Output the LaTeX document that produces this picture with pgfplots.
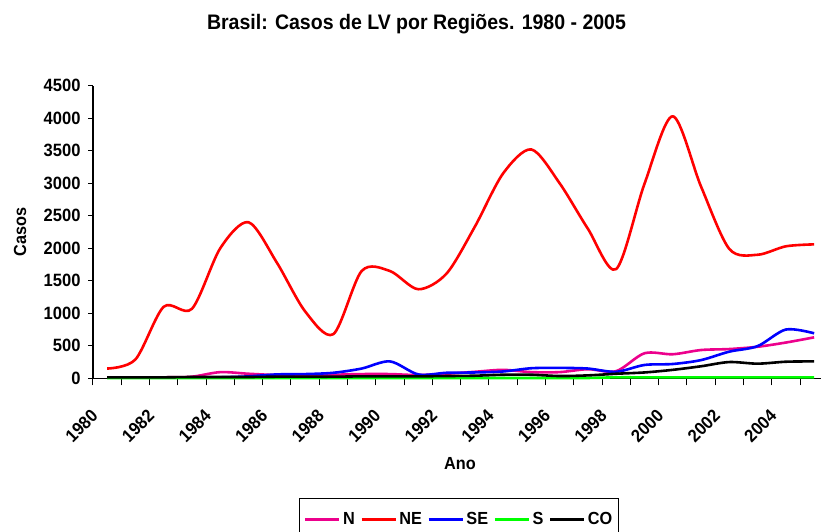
\documentclass[border=0pt]{standalone}
\usepackage{fontspec}
\setmainfont{Liberation Sans}[FakeStretch=0.93]
\usepackage{pgfplots}
\usepackage{pgfplotstable}
\pgfplotsset{compat=1.18}
\pgfplotstableread{
year N NE SE S CO
1980 10 150 10 5 15
1981 10 290 10 5 15
1982 15 1100 10 5 15
1983 25 1070 10 5 20
1984 95 2000 15 5 20
1985 70 2400 30 5 20
1986 50 1780 60 5 25
1987 50 1030 65 5 25
1988 55 680 85 5 25
1989 65 1650 150 5 30
1990 65 1650 260 5 30
1991 50 1370 60 5 30
1992 70 1610 85 5 35
1993 100 2330 90 5 40
1994 130 3150 105 5 55
1995 95 3520 155 5 55
1996 95 3000 160 5 35
1997 140 2300 150 5 45
1998 110 1680 100 15 70
1999 385 2990 205 15 90
2000 370 4030 220 15 130
2001 435 2950 280 15 185
2002 450 1990 410 15 250
2003 485 1900 495 15 225
2004 550 2030 750 15 255
2005 630 2060 692 15 260
}\data
\begin{document}
\begin{tikzpicture}
\begin{axis}[
  at={(0pt,0pt)}, anchor=south west,
  width=728pt, height=292.6pt, scale only axis,
  xmin=1979.5, xmax=2005.243, ymin=0, ymax=4500,
  axis x line*=bottom, axis y line*=left,
  axis line style={line width=1.3pt, black, -},
  clip=false,
  xtick={1980,1982,...,2004},
  major x tick style={draw=none},
  minor xtick={1979.5,1980.5,...,2004.5},
  minor x tick style={line width=1pt, black},
  ytick={0,500,...,4500},
  y tick style={line width=1pt, black},
  tick align=outside,
  major tick length=5pt, minor tick length=7pt,
  /pgf/number format/assume math mode=true,
  /pgf/number format/set thousands separator={},
  ticklabel style={font=\fontsize{17.8}{18}\selectfont\bfseries},
  yticklabel style={anchor=east, xshift=-4pt},
  xticklabel style={xshift=-17pt, yshift=-25pt, rotate=45, anchor=north east, inner sep=0pt},
  xlabel={Ano},
  xlabel style={at={(axis description cs:0.504,-0.293)}, anchor=center, font=\fontsize{17.5}{18}\selectfont\bfseries},
  ylabel={Casos},
  ylabel style={at={(axis description cs:-0.1003,0.5)}, anchor=center, font=\fontsize{17.5}{18}\selectfont\bfseries},
  title={Brasil: Casos de LV por Regiões. 1980 - 2005},
  title style={at={(axis description cs:0.4444,1.1904)}, anchor=base, yshift=-6pt, font=\fontsize{21}{21}\selectfont\bfseries},
  legend columns=5,
  legend style={at={(axis description cs:0.5027,-0.409)}, anchor=north, draw=black, line width=1.3pt,
    font=\fontsize{17.5}{18}\selectfont\bfseries, inner xsep=4pt, inner ysep=12pt,
    /tikz/every even column/.append style={column sep=3pt},
    nodes={inner sep=2pt}},
  legend image code/.code={\draw[#1, line width=3.5pt] (0pt,0pt) -- (34pt,0pt);},
  every axis plot/.append style={line width=2.6pt, smooth, tension=0.5, line join=round},
]
\addplot[magenta] table[x=year,y=N] {\data};
\addlegendentry{N}
\addplot[red] table[x=year,y=NE] {\data};
\addlegendentry{NE}
\addplot[blue] table[x=year,y=SE] {\data};
\addlegendentry{SE}
\addplot[green] table[x=year,y=S] {\data};
\addlegendentry{S}
\addplot[black] table[x=year,y=CO] {\data};
\addlegendentry{CO}
\end{axis}
\pgfresetboundingbox
\useasboundingbox (-93pt,-152.7pt) rectangle (728pt,378.3pt);
\end{tikzpicture}
\end{document}
